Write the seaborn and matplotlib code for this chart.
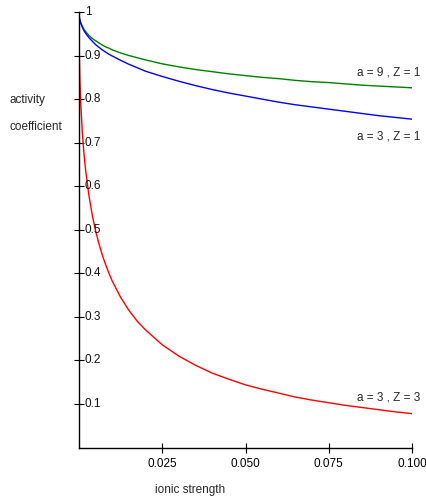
import matplotlib
matplotlib.use("Agg")
import matplotlib.pyplot as plt
import seaborn as sns
import pandas as pd

# ionic strength (x) and activity coefficients
ionic_strength = [0.0, 0.00005, 0.0001, 0.0002, 0.0003, 0.0005, 0.001, 0.0015, 0.002, 0.003,
                  0.004, 0.005, 0.006, 0.007, 0.008, 0.009, 0.01, 0.0125, 0.015, 0.0175,
                  0.02, 0.025, 0.03, 0.035, 0.04, 0.045, 0.05, 0.055, 0.06, 0.065,
                  0.07, 0.075, 0.08, 0.085, 0.09, 0.095, 0.1]
gamma_a9_z1 = [1.0, 0.992, 0.989, 0.984, 0.981, 0.976, 0.967, 0.960, 0.955, 0.946,
               0.939, 0.934, 0.929, 0.924, 0.920, 0.917, 0.913, 0.906, 0.900, 0.895,
               0.890, 0.881, 0.874, 0.868, 0.863, 0.858, 0.854, 0.850, 0.847, 0.843,
               0.840, 0.838, 0.835, 0.832, 0.830, 0.828, 0.826]
gamma_a3_z1 = [1.0, 0.992, 0.988, 0.984, 0.980, 0.975, 0.965, 0.957, 0.951, 0.941,
               0.933, 0.925, 0.919, 0.913, 0.908, 0.903, 0.899, 0.889, 0.880, 0.872,
               0.864, 0.852, 0.841, 0.831, 0.822, 0.814, 0.807, 0.800, 0.793, 0.787,
               0.782, 0.777, 0.772, 0.767, 0.762, 0.758, 0.754]
gamma_a3_z3 = [1.0, 0.929, 0.901, 0.863, 0.835, 0.794, 0.723, 0.674, 0.636, 0.578,
               0.533, 0.497, 0.468, 0.442, 0.420, 0.400, 0.382, 0.345, 0.315, 0.290,
               0.270, 0.236, 0.210, 0.189, 0.171, 0.157, 0.144, 0.134, 0.125, 0.116,
               0.109, 0.103, 0.097, 0.092, 0.087, 0.082, 0.078]

series_names = ["a = 9 , Z = 1", "a = 3 , Z = 1", "a = 3 , Z = 3"]
series_colors = ["#008000", "#0000ff", "#ff0000"]
y_ticks = [0.1, 0.2, 0.3, 0.4, 0.5, 0.6, 0.7, 0.8, 0.9, 1.0]
y_tick_labels = ["0.1", "0.2", "0.3", "0.4", "0.5", "0.6", "0.7", "0.8", "0.9", "1"]
x_ticks = [0.025, 0.05, 0.075, 0.1]
x_tick_labels = ["0.025", "0.050", "0.075", "0.100"]

sns.set_style("white")
plt.rcParams["font.family"] = ["Liberation Sans", "DejaVu Sans"]

n = len(ionic_strength)
df = pd.DataFrame({
    "I": ionic_strength * 3,
    "gamma": gamma_a9_z1 + gamma_a3_z1 + gamma_a3_z3,
    "curve": [series_names[0]] * n + [series_names[1]] * n + [series_names[2]] * n,
})

fig = plt.figure(figsize=(4.27, 4.99), dpi=100)
ax = fig.add_axes([79 / 427, (499 - 447.6) / 499, 333 / 427, 435.6 / 499])

sns.lineplot(data=df, x="I", y="gamma", hue="curve", palette=dict(zip(series_names, series_colors)),
             linewidth=1.0, legend=False, ax=ax, sort=False)

ax.set_xlim(0, 0.1)
ax.set_ylim(0, 1)
ax.set_xlabel("")
ax.set_ylabel("")
for side in ["top", "right"]:
    ax.spines[side].set_visible(False)
for side in ["left", "bottom"]:
    ax.spines[side].set_color("black")
    ax.spines[side].set_linewidth(1.0)

ax.set_xticks(x_ticks)
ax.set_xticklabels(x_tick_labels)
ax.set_yticks(y_ticks)
ax.set_yticklabels([])
ax.tick_params(axis="both", direction="inout", length=7, width=0.8, colors="black",
               labelsize=8.5, bottom=True, left=True)
ax.tick_params(axis="x", pad=4)

# y tick labels sit to the right of the axis line
for t, lab in zip(y_ticks, y_tick_labels):
    ax.text(0.018, t, lab, transform=ax.get_yaxis_transform(), ha="left", va="center",
            fontsize=8.5, color="#111111")

# curve labels at the right end
ax.text(0.1025, 0.861, series_names[0], ha="right", va="center", fontsize=8.5, clip_on=False)
ax.text(0.1025, 0.715, series_names[1], ha="right", va="center", fontsize=8.5, clip_on=False)
ax.text(0.1025, 0.114, series_names[2], ha="right", va="center", fontsize=8.5, clip_on=False)

# axis titles
fig.text(10 / 427, 1 - 100 / 499, "activity", ha="left", va="center", fontsize=8.5)
fig.text(10 / 427, 1 - 127 / 499, "coefficient", ha="left", va="center", fontsize=8.5)
fig.text(190 / 427, 1 - 490 / 499, "ionic strength", ha="center", va="center", fontsize=8.5)

fig.savefig("out.png", dpi=100)
